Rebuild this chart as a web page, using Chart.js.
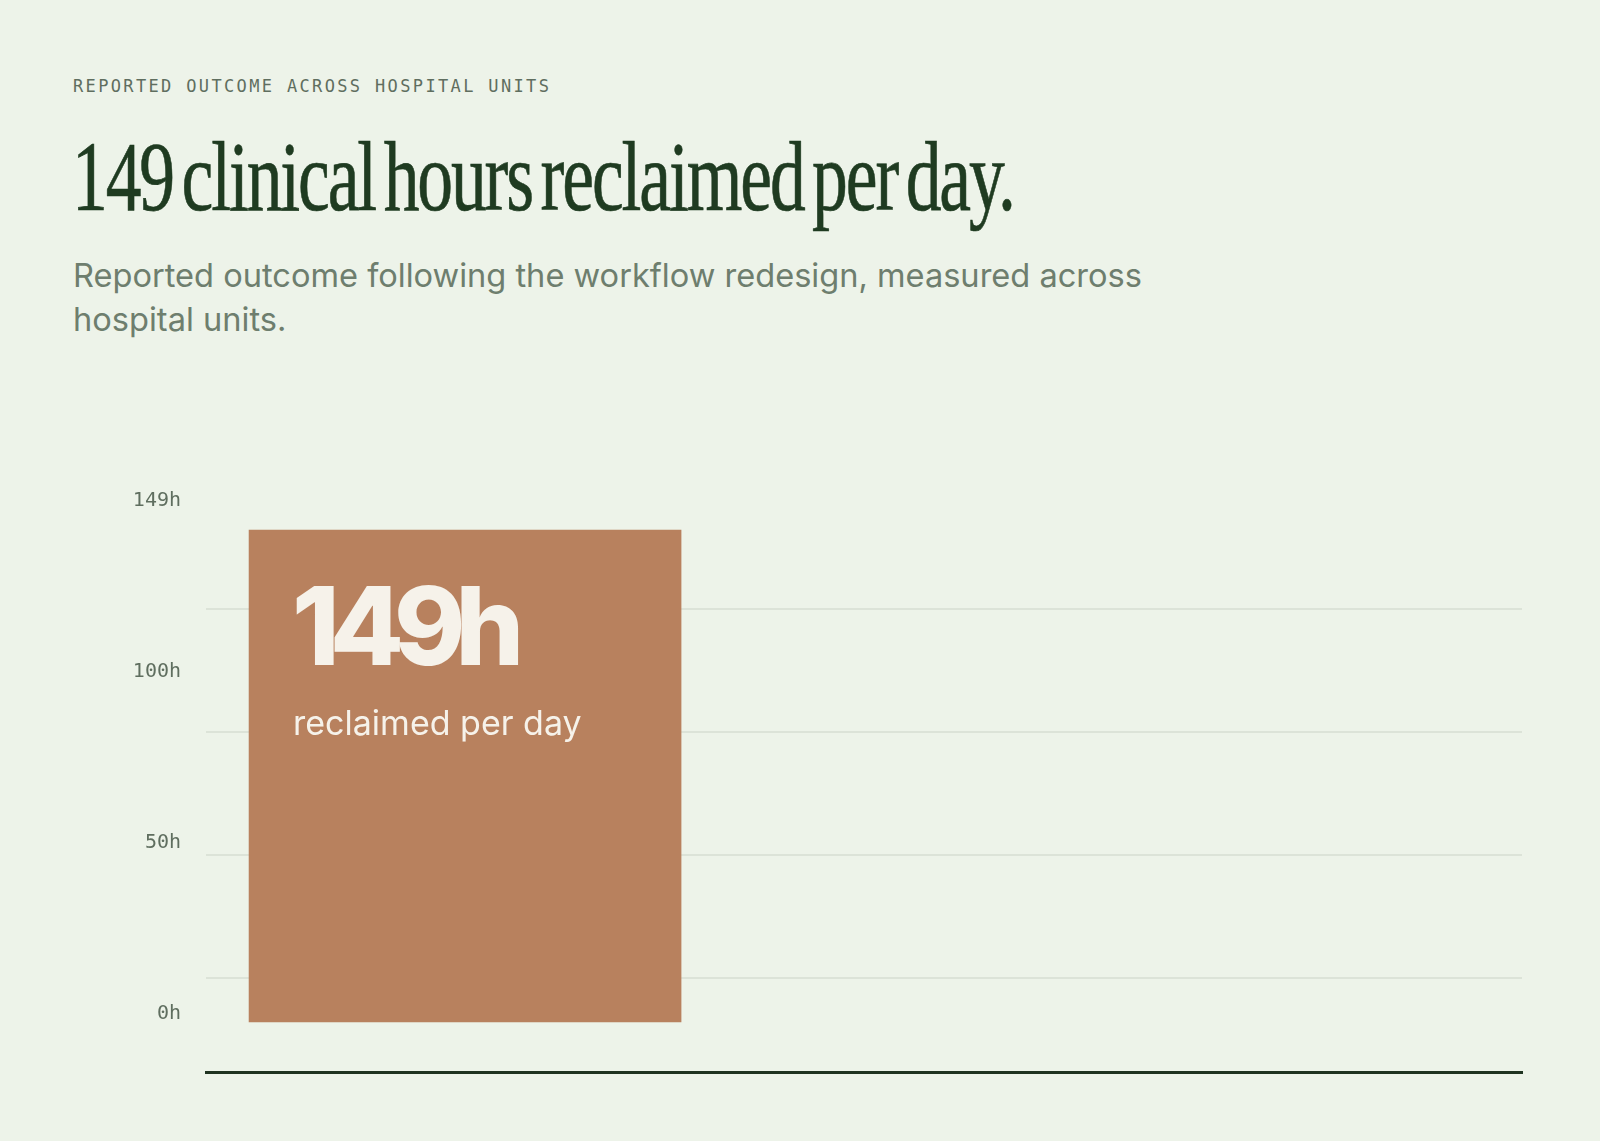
<!DOCTYPE html>
<html>
<head>
<meta charset="utf-8">
<title>Clinical hours reclaimed</title>
<script src="https://cdn.jsdelivr.net/npm/chart.js@4.4.1/dist/chart.umd.min.js"></script>
<style>
  html, body { margin: 0; padding: 0; }
  body {
    width: 1600px;
    height: 1141px;
    background: #edf3e9;
    position: relative;
    overflow: hidden;
  }
  .eyebrow {
    position: absolute;
    left: 73px;
    top: 76px;
    margin: 0;
    font: 400 17px/20px "DejaVu Sans Mono", monospace;
    letter-spacing: 2.35px;
    color: #5f6e5f;
  }
  .title {
    position: absolute;
    left: 72px;
    top: 127px;
    margin: 0;
    font: 400 100px/100px "Liberation Serif", serif;
    letter-spacing: -3px;
    word-spacing: -10px;
    color: #1f3b21;
    -webkit-text-stroke: 0.7px #1f3b21;
    white-space: nowrap;
    transform: scaleX(0.716);
    transform-origin: left top;
  }
  .sub {
    position: absolute;
    left: 73px;
    top: 253px;
    width: 1130px;
    margin: 0;
    font: 400 32.6px/44px Inter, sans-serif;
    color: #6e7e6e;
  }
  .chart-box {
    position: absolute;
    left: 0;
    top: 400px;
    width: 1600px;
    height: 700px;
  }
</style>
</head>
<body>
<div class="eyebrow">REPORTED OUTCOME ACROSS HOSPITAL UNITS</div>
<h1 class="title">149 clinical hours reclaimed per day.</h1>
<p class="sub">Reported outcome following the workflow redesign, measured across hospital units.</p>
<div class="chart-box"><canvas id="bar-chart" width="1600" height="700"></canvas></div>

<script>
const categories = ['reclaimed per day'];
const hoursReclaimed = [149];
const tickLabels = ['0h', '50h', '100h', '149h'];
const tickSteps = [0, 1, 2, 3];
const gridSteps = [0, 1, 2, 3];

// big number + caption drawn inside the bar
const barLabel = {
    id: 'barLabel',
    afterDatasetsDraw(chart) {
        const ctx = chart.ctx;
        const meta = chart.getDatasetMeta(0);
        meta.data.forEach((bar, i) => {
            const left = bar.x - bar.width / 2;
            ctx.save();
            ctx.fillStyle = '#f6f2ea';
            ctx.textAlign = 'left';
            ctx.textBaseline = 'alphabetic';
            ctx.font = '800 108px Inter';
            ctx.letterSpacing = '-10px';
            ctx.fillText(hoursReclaimed[i] + 'h', left + 43, bar.y + 135);
            ctx.font = '400 34px Inter';
            ctx.letterSpacing = '0px';
            ctx.fillText(categories[i], left + 44, bar.y + 205);
            ctx.restore();
        });
    }
};

new Chart(document.getElementById('bar-chart'), {
    type: 'bar',
    data: {
        datasets: [{
            label: 'Clinical hours reclaimed per day',
            data: categories.map((c, i) => ({ x: i, y: hoursReclaimed[i] })),
            backgroundColor: '#b8815e',
            borderWidth: 0,
            barThickness: 432
        }]
    },
    options: {
        responsive: false,
        animation: false,
        devicePixelRatio: 1,
        layout: {
            padding: { top: 99, bottom: 28, left: 0, right: 78 }
        },
        plugins: {
            legend: { display: false },
            tooltip: { enabled: false }
        },
        scales: {
            x: {
                type: 'linear',
                offset: false,
                min: -0.5,
                max: 2.04,
                grid: { display: false, drawTicks: false },
                ticks: { display: false },
                border: { display: true, color: '#1f3320', width: 3 },
                afterFit(axis) { axis.height = 0; }
            },
            y: {
                display: false,
                min: -15.14,
                max: 158.4
            },
            yGrid: {
                type: 'linear',
                axis: 'y',
                position: 'right',
                min: -0.764,
                max: 3.894,
                afterBuildTicks(axis) { axis.ticks = gridSteps.map(v => ({ value: v })); },
                grid: { color: '#dce3d8', lineWidth: 2, drawTicks: false },
                ticks: { display: false },
                border: { display: false },
                afterFit(axis) {
                    axis.width = 0;
                    axis.paddingTop = 0;
                    axis.paddingBottom = 0;
                }
            },
            yLabels: {
                type: 'linear',
                axis: 'y',
                position: 'left',
                min: -0.351,
                max: 3,
                afterBuildTicks(axis) { axis.ticks = tickSteps.map(v => ({ value: v })); },
                grid: { display: false, drawTicks: false },
                border: { display: false },
                ticks: {
                    autoSkip: false,
                    padding: 25,
                    labelOffset: 2,
                    color: '#5f6e5f',
                    font: { family: 'DejaVu Sans Mono', size: 20 },
                    callback: (v, i) => tickLabels[i]
                },
                afterFit(axis) {
                    axis.width = 206;
                    axis.paddingTop = 0;
                    axis.paddingBottom = 0;
                }
            }
        }
    },
    plugins: [barLabel]
});
</script>
</body>
</html>
